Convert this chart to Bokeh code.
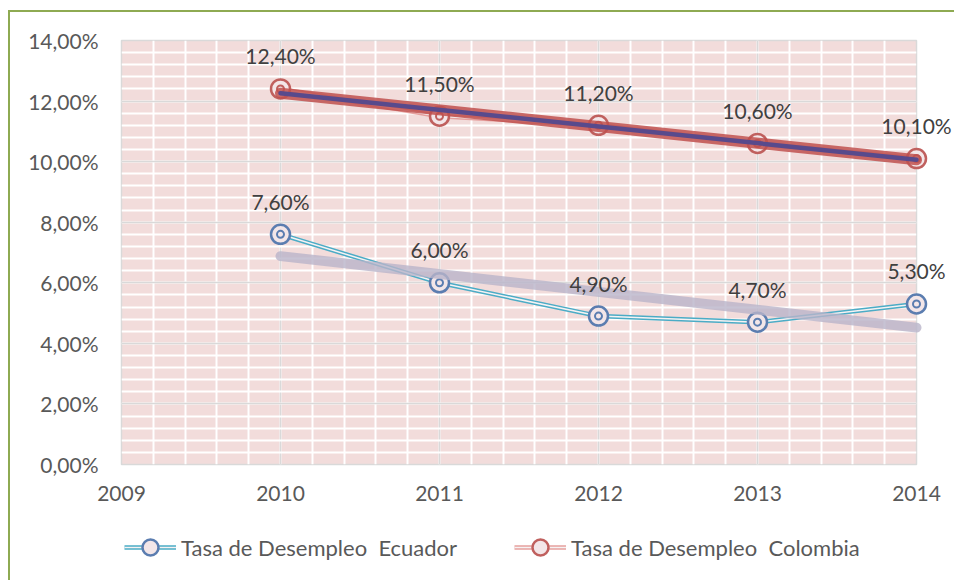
from bokeh.plotting import figure
from bokeh.layouts import column
from bokeh.models import (Range1d, SingleIntervalTicker, CustomJSTickFormatter,
                          Legend, LegendItem, ColumnDataSource)
from bokeh.core.properties import value
from bokeh.embed import file_html
from bokeh.resources import INLINE

# ---- data ----
years = [2010, 2011, 2012, 2013, 2014]
ecuador = [7.6, 6.0, 4.9, 4.7, 5.3]
colombia = [12.4, 11.5, 11.2, 10.6, 10.1]
trend_years = [2010, 2014]
ecuador_trend = [6.88, 4.52]
colombia_trend = [12.26, 10.06]
series_names = ["Tasa de Desempleo  Ecuador", "Tasa de Desempleo  Colombia"]

FONT = "Lato"
FS = "21px"
E_LINE, E_MARK = "#4bacc6", "#5b7db0"
C_LINE, C_MARK = "#e6a09e", "#c0605e"

def pct(v):
    return f"{v:.2f}".replace(".", ",") + "%"

src_e = ColumnDataSource(dict(x=years, y=ecuador, lab=[pct(v) for v in ecuador]))
src_c = ColumnDataSource(dict(x=years, y=colombia, lab=[pct(v) for v in colombia]))

p = figure(width=944, height=493, x_range=Range1d(2009, 2014), y_range=Range1d(0, 14),
           output_backend="svg", toolbar_location=None,
           min_border_left=111, min_border_right=38, min_border_top=28, min_border_bottom=41)
p.background_fill_color = "#f2dcdb"
p.border_fill_color = "white"
p.outline_line_color = "#d9d9d9"
p.outline_line_width = 1.5

p.xaxis.ticker = SingleIntervalTicker(interval=1, num_minor_ticks=5)
p.yaxis.ticker = SingleIntervalTicker(interval=2, num_minor_ticks=5)
p.yaxis.formatter = CustomJSTickFormatter(code="return tick.toFixed(2).replace('.', ',') + '%';")
for ax in (p.xaxis, p.yaxis):
    ax.axis_line_color = None
    ax.major_tick_line_color = None
    ax.minor_tick_line_color = None
    ax.major_label_text_font = FONT
    ax.major_label_text_font_size = FS
    ax.major_label_text_color = "#595959"
p.yaxis.major_label_standoff = 17
p.xaxis.major_label_standoff = 15

for g in (p.xgrid, p.ygrid):
    g.grid_line_color = "#d9d9d9"
    g.grid_line_width = 1.5
    g.minor_grid_line_color = "white"
    g.minor_grid_line_width = 2

def draw_series(fig, src, lc, mc, visible=True):
    l1 = fig.line("x", "y", source=src, line_color=lc, line_width=4.5, visible=visible)
    l2 = fig.line("x", "y", source=src, line_color="#f6f2f3", line_width=1.5, visible=visible)
    m1 = fig.scatter("x", "y", source=src, marker="circle", size=19, line_color=mc,
                     line_width=2.5, fill_color="#f3e6e8", visible=visible)
    m2 = fig.scatter("x", "y", source=src, marker="circle", size=7, line_color=mc,
                     line_width=2, fill_color=None, visible=visible)
    return l1, l2, m1, m2

e_l1, e_l2, e_m1, e_m2 = draw_series(p, src_e, E_LINE, E_MARK)
c_l1, c_l2, c_m1, c_m2 = draw_series(p, src_c, C_LINE, C_MARK)

# trendlines
t1 = p.line(trend_years, colombia_trend, line_color="#c0504d", line_width=11, line_alpha=0.85, line_cap="round")
t2 = p.line(trend_years, colombia_trend, line_color="#584a8c", line_width=4.5, line_cap="round")
t3 = p.line(trend_years, ecuador_trend, line_color="#b9b4c9", line_width=10, line_alpha=0.8, line_cap="round")

# data labels
txt = []
for src in (src_e, src_c):
    txt.append(p.text("x", "y", text="lab", source=src, text_align="center", text_baseline="middle",
                      y_offset=-33, text_font=value(FONT), text_font_size=FS, text_color="#404040"))

for r in [e_m1, e_m2, c_m1, c_m2, t1, t2, t3] + txt:
    r.level = "overlay"

# ---- legend strip below the chart ----
lg = figure(width=944, height=75, x_range=Range1d(0, 1), y_range=Range1d(0, 1),
            output_backend="svg", toolbar_location=None, min_border=0)
lg.axis.visible = False
lg.grid.visible = False
lg.outline_line_color = None
lg.background_fill_color = "white"
le = draw_series(lg, src_e, E_LINE, E_MARK, visible=False)
lc = draw_series(lg, src_c, C_LINE, C_MARK, visible=False)

legend = Legend(items=[LegendItem(label=series_names[0], renderers=[le[0], le[1], le[2]]),
                       LegendItem(label=series_names[1], renderers=[lc[0], lc[1], lc[2]])],
                orientation="horizontal", location=(3, 13),
                glyph_width=52, glyph_height=40, label_standoff=5, spacing=57,
                padding=0, margin=0, border_line_color=None, background_fill_alpha=0,
                inactive_fill_alpha=0,
                label_text_font=FONT, label_text_font_size="22px", label_text_color="#595959")
lg.add_layout(legend, "center")

layout = column(p, lg, spacing=0)
layout.styles = {"margin-left": "8px", "margin-top": "10px",
                 "border-left": "2px solid #8eaa52", "border-top": "2px solid #8eaa52"}

open("out.html", "w").write(file_html(layout, INLINE))
